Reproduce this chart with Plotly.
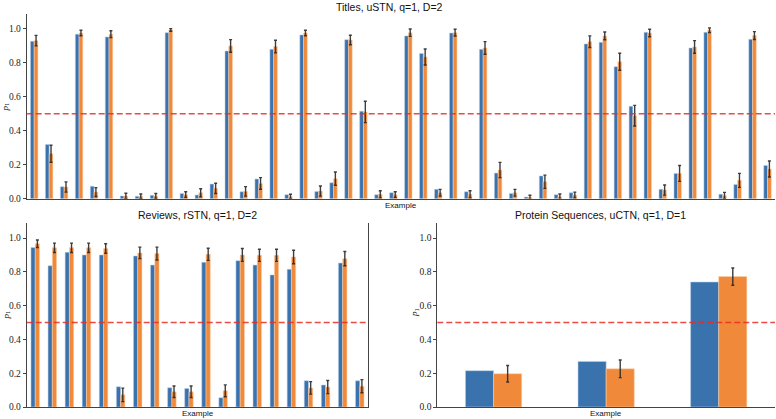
import plotly.graph_objects as go

W, H = 776, 419

# ---------------- data ----------------
titles_blue = [0.927, 0.32, 0.071, 0.969, 0.073, 0.953, 0.016, 0.014, 0.02, 0.978,
               0.031, 0.022, 0.086, 0.87, 0.041, 0.116, 0.88, 0.024, 0.965, 0.043,
               0.094, 0.937, 0.515, 0.024, 0.035, 0.959, 0.855, 0.055, 0.976, 0.041,
               0.88, 0.151, 0.031, 0.01, 0.134, 0.024, 0.035, 0.912, 0.921, 0.778,
               0.544, 0.98, 0.055, 0.149, 0.888, 0.98, 0.026, 0.084, 0.939, 0.196]
titles_orange = [0.931, 0.265, 0.069, 0.976, 0.039, 0.969, 0.016, 0.014, 0.016, 0.994,
                 0.024, 0.035, 0.061, 0.90, 0.043, 0.09, 0.896, 0.012, 0.976, 0.045,
                 0.118, 0.935, 0.511, 0.026, 0.024, 0.978, 0.835, 0.035, 0.978, 0.026,
                 0.888, 0.169, 0.035, 0.008, 0.10, 0.012, 0.022, 0.925, 0.959, 0.807,
                 0.489, 0.976, 0.051, 0.149, 0.894, 0.992, 0.018, 0.108, 0.961, 0.175]
titles_err = [0.031, 0.05, 0.03, 0.016, 0.026, 0.02, 0.016, 0.014, 0.015, 0.008,
              0.017, 0.024, 0.03, 0.037, 0.028, 0.034, 0.037, 0.014, 0.016, 0.03,
              0.039, 0.028, 0.063, 0.021, 0.017, 0.022, 0.047, 0.02, 0.02, 0.021,
              0.037, 0.045, 0.02, 0.012, 0.039, 0.016, 0.017, 0.034, 0.023, 0.05,
              0.061, 0.022, 0.03, 0.047, 0.037, 0.014, 0.019, 0.041, 0.023, 0.047]

reviews_blue = [0.944, 0.836, 0.916, 0.90, 0.90, 0.12, 0.894, 0.84, 0.114, 0.11,
                0.856, 0.055, 0.866, 0.84, 0.782, 0.815, 0.155, 0.13, 0.852, 0.155]
reviews_orange = [0.966, 0.942, 0.942, 0.942, 0.938, 0.072, 0.912, 0.908, 0.09, 0.09,
                  0.904, 0.096, 0.90, 0.898, 0.898, 0.888, 0.113, 0.118, 0.878, 0.123]
reviews_err = [0.022, 0.028, 0.028, 0.028, 0.028, 0.04, 0.034, 0.038, 0.034, 0.034,
               0.036, 0.035, 0.038, 0.036, 0.036, 0.04, 0.037, 0.039, 0.042, 0.039]

protein_blue = [0.215, 0.27, 0.74]
protein_orange = [0.197, 0.226, 0.772]
protein_err = [0.049, 0.052, 0.051]

titles = ["Titles, uSTN, q=1, D=2", "Reviews, rSTN, q=1, D=2", "Protein Sequences, uCTN, q=1, D=1"]
xlabel = "Example"
ylabel = "<i>p</i><sub>1</sub>"
threshold = 0.5
yticks = [0.0, 0.2, 0.4, 0.6, 0.8, 1.0]

BLUE = "#3a72ae"
ORANGE = "#f0893a"
AXC = "#444444"

fig = go.Figure()

panels = [
    (titles_blue, titles_orange, titles_err, "x", "y"),
    (reviews_blue, reviews_orange, reviews_err, "x2", "y2"),
    (protein_blue, protein_orange, protein_err, "x3", "y3"),
]
for b, o, e, xa, ya in panels:
    idx = list(range(len(b)))
    fig.add_trace(go.Bar(x=idx, y=b, marker=dict(color=BLUE, line=dict(width=0.6, color="rgba(190,210,235,0.9)")),
                         xaxis=xa, yaxis=ya, showlegend=False))
    fig.add_trace(go.Bar(x=idx, y=o, marker=dict(color=ORANGE, line=dict(width=0.6, color="rgba(250,210,175,0.9)")),
                         error_y=dict(type="data", array=e, visible=True, color="rgba(40,40,40,0.9)",
                                      thickness=1.4, width=1.5),
                         xaxis=xa, yaxis=ya, showlegend=False))

def px(v):
    return v / W

def py(v):
    return (H - v) / H

tickfont = dict(family="Liberation Serif, DejaVu Serif, serif", size=9.5, color="#222")
common_x = dict(showticklabels=False, ticks="", showline=True, linecolor=AXC, linewidth=1,
                showgrid=False, zeroline=False, automargin=False)
common_y = dict(tickvals=yticks, tickformat=".1f", ticks="outside", ticklen=3, tickcolor=AXC,
                showline=True, linecolor=AXC, linewidth=1, showgrid=False, zeroline=False,
                tickfont=tickfont, automargin=False)

fig.update_layout(
    width=W, height=H,
    margin=dict(l=0, r=0, t=0, b=0),
    paper_bgcolor="white", plot_bgcolor="white",
    barmode="group", bargap=0.5, bargroupgap=0,
    xaxis=dict(domain=[px(26.7), px(775)], range=[-0.5, len(titles_blue) - 0.5], anchor="y", **common_x),
    yaxis=dict(domain=[py(198.7), py(14)], range=[0, 1.088], anchor="x", **common_y),
    xaxis2=dict(domain=[px(26.7), px(368.3)], range=[-0.5, len(reviews_blue) - 0.5], anchor="y2", **common_x),
    yaxis2=dict(domain=[py(407), py(222.5)], range=[0, 1.092], anchor="x2", mirror=True, **common_y),
    xaxis3=dict(domain=[px(437.3), px(775)], range=[-0.5, len(protein_blue) - 0.5], anchor="y3", **common_x),
    yaxis3=dict(domain=[py(407), py(222.5)], range=[0, 1.092], anchor="x3", **common_y),
)

# threshold lines
for xa, ya in [("x", "y"), ("x2", "y2"), ("x3", "y3")]:
    fig.add_shape(type="line", xref=f"{xa} domain", yref=ya, x0=0, x1=1, y0=threshold, y1=threshold,
                  line=dict(color="rgba(230,45,35,0.85)", width=1.5, dash="6px,3px"))

titlefont = dict(family="Liberation Sans, Arial, sans-serif", size=10.5, color="#111")
labelfont = dict(family="Liberation Sans, Arial, sans-serif", size=8, color="#111")
ylabfont = dict(family="Liberation Serif, DejaVu Serif, serif", size=9, color="#111")

ann = []
for t, (xc, yc) in zip(titles, [(389, 7), (197.5, 215), (600, 215)]):
    ann.append(dict(text=t, x=px(xc), y=py(yc), xref="paper", yref="paper", showarrow=False,
                    xanchor="center", yanchor="middle", font=titlefont))
for xc, yc in [(401, 205), (197.5, 413), (606, 413)]:
    ann.append(dict(text=xlabel, x=px(xc), y=py(yc), xref="paper", yref="paper", showarrow=False,
                    xanchor="center", yanchor="middle", font=labelfont))
for xc, yc in [(5.5, 107), (5.5, 315), (414, 313)]:
    ann.append(dict(text=ylabel, x=px(xc), y=py(yc), xref="paper", yref="paper", showarrow=False,
                    xanchor="center", yanchor="middle", textangle=-90, font=ylabfont))
fig.update_layout(annotations=ann)

fig.write_html("out.html", config={"responsive": False, "displayModeBar": False},
               post_script="document.body.style.margin='0';document.body.style.overflow='hidden';")
